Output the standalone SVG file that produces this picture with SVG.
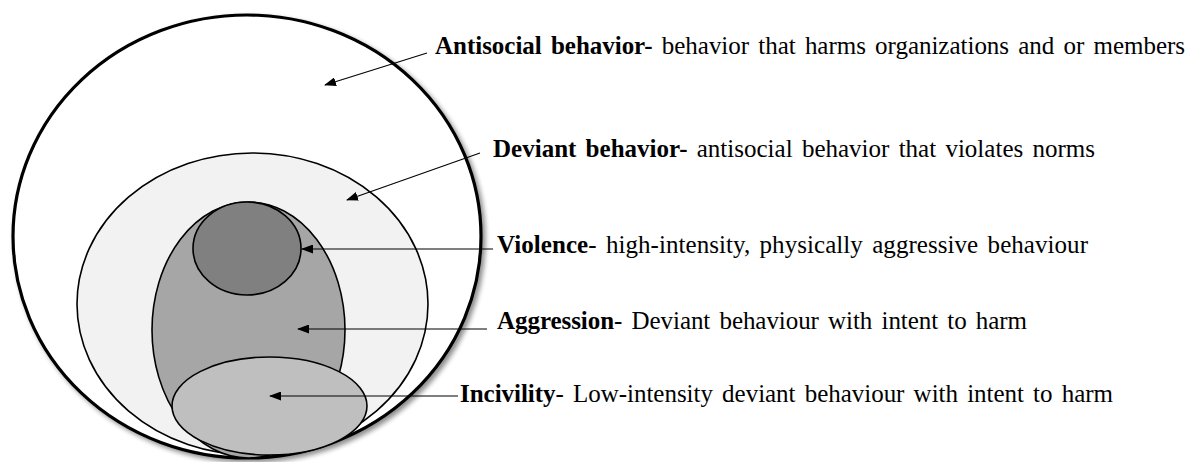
<svg xmlns="http://www.w3.org/2000/svg" width="1197" height="462" viewBox="0 0 1197 462">
  <style>
    text { font-family: 'Liberation Serif', 'Times New Roman', Times, serif; font-size: 25px; word-spacing: 3px; fill: #000; }
    .b { font-weight: bold; }
    .ring { stroke: #000; stroke-width: 1.6; }
    .conn { stroke: #000; stroke-width: 1.1; fill: none; marker-end: url(#tip); }
  </style>
  <defs>
    <marker id="tip" viewBox="0 0 12 9" refX="11" refY="4.5" markerWidth="12" markerHeight="9" markerUnits="userSpaceOnUse" orient="auto">
      <path d="M0,0 L12,4.5 L0,9 Z" fill="#000"/>
    </marker>
    <filter id="soft" x="-10%" y="-10%" width="125%" height="125%">
      <feGaussianBlur in="SourceAlpha" stdDeviation="2.5"/>
      <feOffset dx="3" dy="3" result="sh"/>
      <feComponentTransfer><feFuncA type="linear" slope="0.45"/></feComponentTransfer>
      <feMerge><feMergeNode/><feMergeNode in="SourceGraphic"/></feMerge>
    </filter>
  </defs>

  <rect width="1197" height="462" fill="#fff"/>

  <!-- nested behaviour sets -->
  <g id="antisocial">
    <ellipse cx="247" cy="236.5" rx="234" ry="221.5" fill="#fff" stroke="#000" stroke-width="3.2" filter="url(#soft)"/>
  </g>
  <g id="deviant">
    <ellipse class="ring" cx="252.5" cy="304" rx="175.5" ry="151" fill="#f2f2f2"/>
  </g>
  <g id="aggression">
    <ellipse class="ring" cx="248.5" cy="330" rx="96.5" ry="128" fill="#a6a6a6"/>
  </g>
  <g id="violence">
    <ellipse class="ring" cx="247" cy="248.5" rx="54" ry="46.5" fill="#808080"/>
  </g>
  <g id="incivility">
    <ellipse class="ring" cx="269.5" cy="406" rx="97.5" ry="49" fill="#bfbfbf"/>
  </g>

  <!-- pointers from definitions to sets -->
  <g id="connectors">
    <line class="conn" x1="427" y1="53" x2="325" y2="85"/>
    <line class="conn" x1="480" y1="153" x2="347" y2="200"/>
    <line class="conn" x1="493" y1="249" x2="302" y2="249"/>
    <line class="conn" x1="487" y1="329" x2="298" y2="329"/>
    <line class="conn" x1="458" y1="396" x2="270" y2="396"/>
  </g>

  <!-- definitions -->
  <g id="label-antisocial">
    <text x="435" y="54" textLength="750" lengthAdjust="spacing"><tspan class="b">Antisocial behavior-</tspan> behavior that harms organizations and or members</text>
  </g>
  <g id="label-deviant">
    <text x="493" y="157" textLength="602" lengthAdjust="spacing"><tspan class="b">Deviant behavior-</tspan> antisocial behavior that violates norms</text>
  </g>
  <g id="label-violence">
    <text x="497" y="253" textLength="591" lengthAdjust="spacing"><tspan class="b">Violence</tspan>- high-intensity, physically aggressive behaviour</text>
  </g>
  <g id="label-aggression">
    <text x="497" y="329" textLength="530" lengthAdjust="spacing"><tspan class="b">Aggression</tspan>- Deviant behaviour with intent to harm</text>
  </g>
  <g id="label-incivility">
    <text x="460" y="402" textLength="653" lengthAdjust="spacing"><tspan class="b">Incivility</tspan>- Low-intensity deviant behaviour with intent to harm</text>
  </g>
</svg>
